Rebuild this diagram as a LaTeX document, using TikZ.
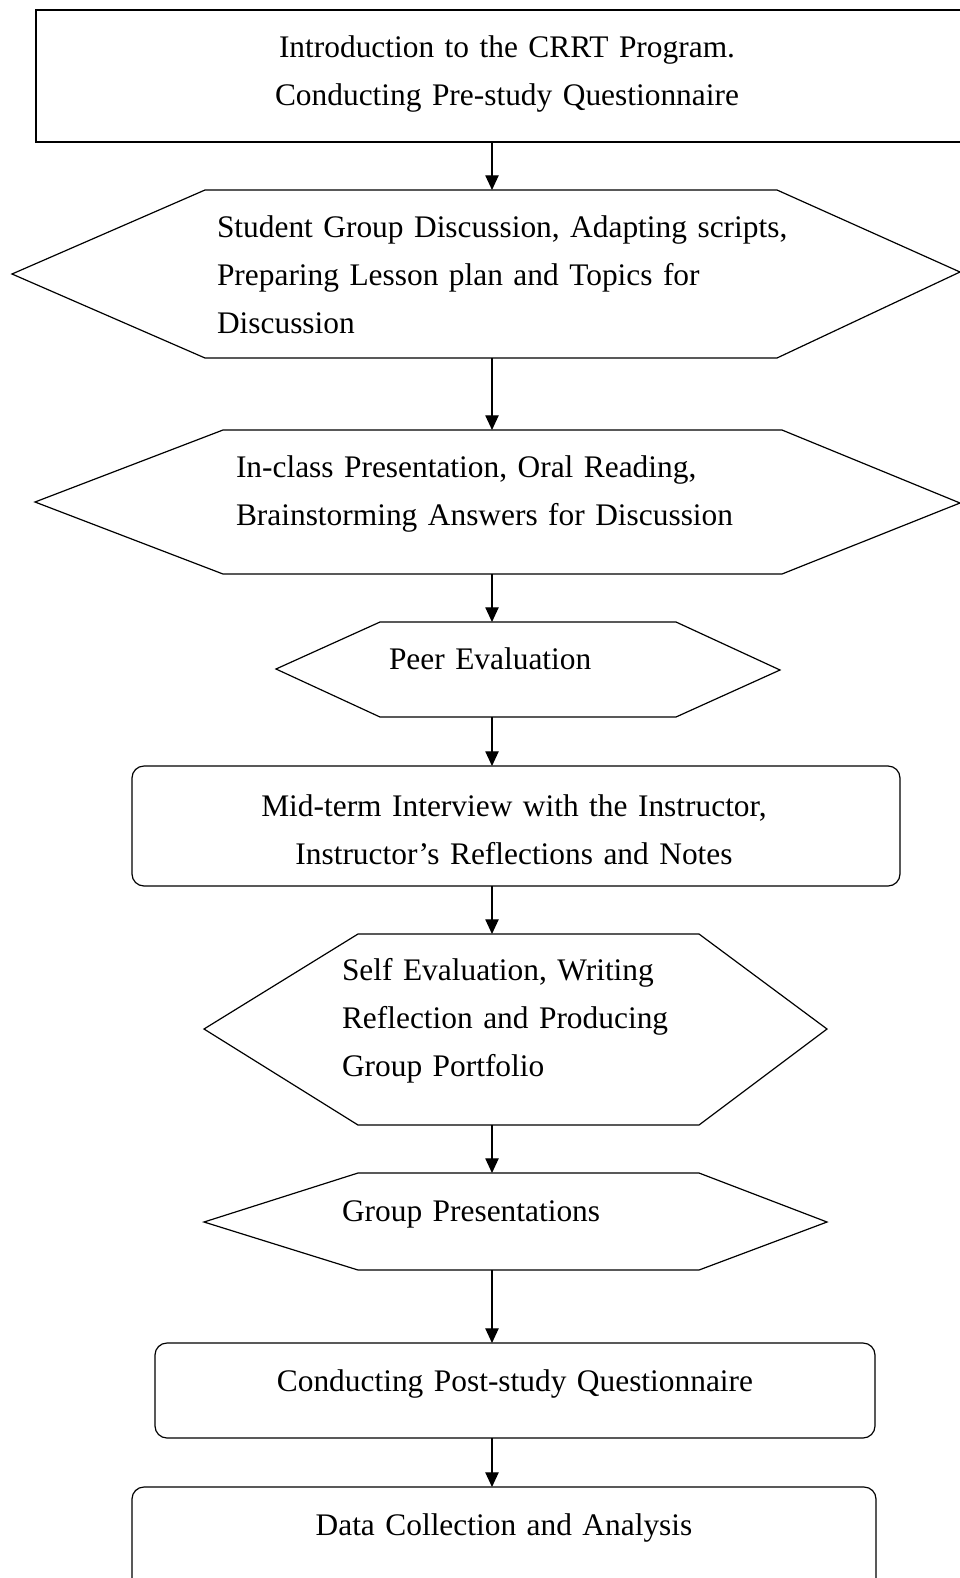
\documentclass[tikz,border=0pt]{standalone}
\usepackage{fontspec}
\setmainfont{Liberation Serif}[WordSpace={0.6,0,0}]
\usetikzlibrary{arrows.meta,fit}
\begin{document}
\begin{tikzpicture}[x=0.75pt,y=-0.75pt,
  frame/.style={draw,line width=1.4pt,inner sep=0pt,outer sep=0pt},
  rbox/.style={draw,line width=0.9pt,rounded corners=9pt,inner sep=0pt,outer sep=0pt},
  hexa/.style={inner sep=0pt,outer sep=0pt},
  hexline/.style={draw,line width=0.9pt,line join=miter},
  txt/.style={inner sep=0pt,outer sep=0pt,text width=600pt,font=\fontsize{23.55}{36}\selectfont},
  arr/.style={line width=0.9pt,-{Triangle[length=11pt,width=10pt]}}]
\useasboundingbox (0,0) rectangle (960,1578);
\clip (0,0) rectangle (960,1578);
\coordinate (ax) at (492,0);

% shapes
\node[frame,fit={(36,10) (975,142)}] (n1) {};

\node[hexa,fit={(12,190) (960,358)}] (n2) {};
\draw[hexline] (12,274) -- (205,190) -- (777,190) -- (960,272) -- (777,358) -- (205,358) -- cycle;

\node[hexa,fit={(35,430) (960,574)}] (n3) {};
\draw[hexline] (35,502) -- (223,430) -- (782,430) -- (960,503) -- (782,574) -- (223,574) -- cycle;

\node[hexa,fit={(276,622) (780,717)}] (n4) {};
\draw[hexline] (276,669) -- (380,622) -- (676,622) -- (780,670) -- (676,717) -- (380,717) -- cycle;

\node[rbox,fit={(132,766) (900,886)}] (n5) {};

\node[hexa,fit={(204,934) (827,1125)}] (n6) {};
\draw[hexline] (204,1029) -- (358,934) -- (699,934) -- (827,1029) -- (699,1125) -- (358,1125) -- cycle;

\node[hexa,fit={(204,1173) (827,1270)}] (n7) {};
\draw[hexline] (204,1222) -- (358,1173) -- (699,1173) -- (827,1222) -- (699,1270) -- (358,1270) -- cycle;

\node[rbox,fit={(155,1343) (875,1438)}] (n8) {};

\node[rbox,fit={(132,1487) (876,1600)}] (n9) {};

% texts
\node[txt,align=center,anchor=base] (t1) at (507,57) {Introduction to the CRRT Program.\\Conducting Pre-study Questionnaire};
\node[txt,align=left,anchor=base west] (t2) at (217,237) {Student Group Discussion, Adapting scripts,\\Preparing Lesson plan and Topics for\\Discussion};
\node[txt,align=left,anchor=base west] (t3) at (236,477) {In-class Presentation, Oral Reading,\\Brainstorming Answers for Discussion};
\node[txt,align=left,anchor=base west] (t4) at (389,669) {Peer Evaluation};
\node[txt,align=center,anchor=base] (t5) at (514,816) {Mid-term Interview with the Instructor,\\Instructor’s Reflections and Notes};
\node[txt,align=left,anchor=base west] (t6) at (342,980) {Self Evaluation, Writing\\Reflection and Producing\\Group Portfolio};
\node[txt,align=left,anchor=base west] (t7) at (342,1221) {Group Presentations};
\node[txt,align=center,anchor=base] (t8) at (515,1391) {Conducting Post-study Questionnaire};
\node[txt,align=center,anchor=base] (t9) at (504,1535) {Data Collection and Analysis};

% connectors
\draw[arr] (n1.south -| ax) -- (n2.north -| ax);
\draw[arr] (n2.south -| ax) -- (n3.north -| ax);
\draw[arr] (n3.south -| ax) -- (n4.north -| ax);
\draw[arr] (n4.south -| ax) -- (n5.north -| ax);
\draw[arr] (n5.south -| ax) -- (n6.north -| ax);
\draw[arr] (n6.south -| ax) -- (n7.north -| ax);
\draw[arr] (n7.south -| ax) -- (n8.north -| ax);
\draw[arr] (n8.south -| ax) -- (n9.north -| ax);
\end{tikzpicture}
\end{document}
